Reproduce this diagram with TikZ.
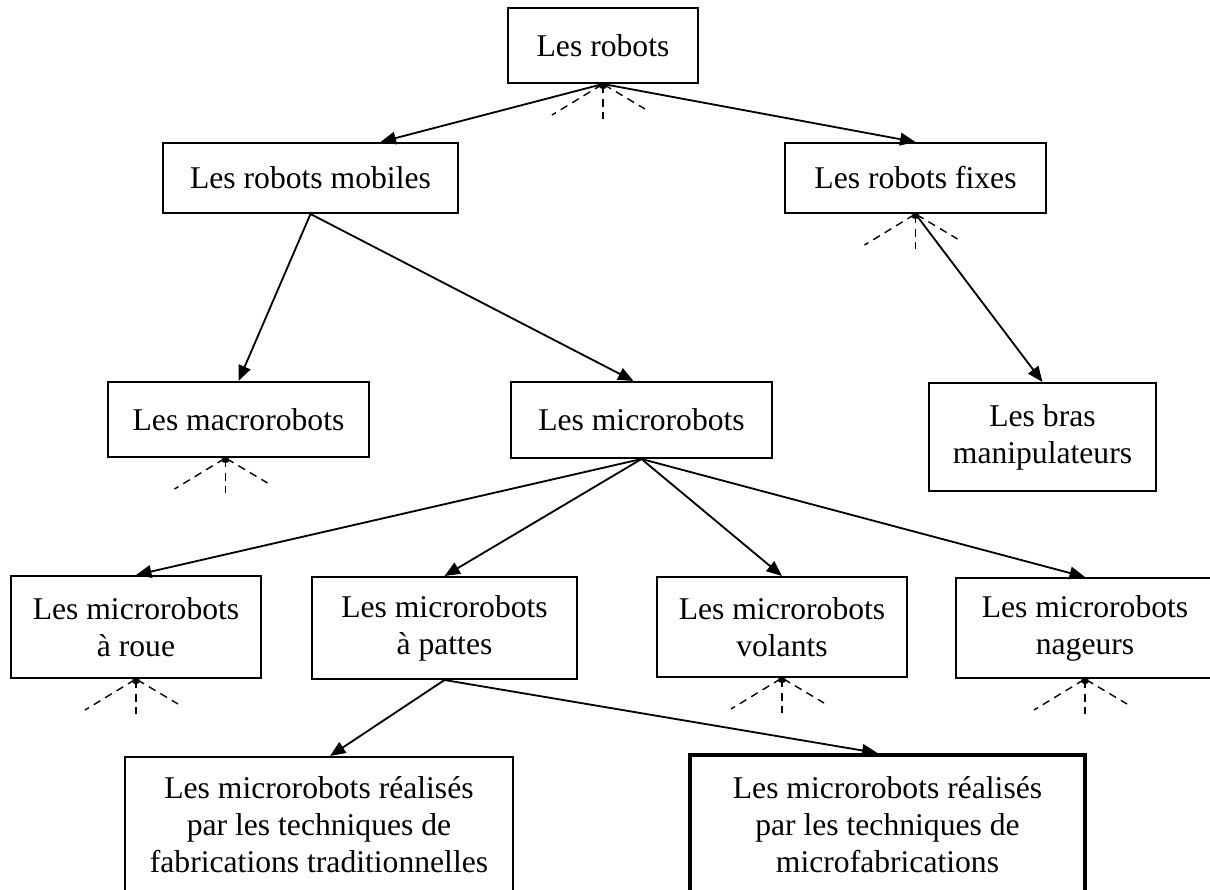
\documentclass[tikz,border=0pt]{standalone}
\usepackage{fontspec}
\setmainfont{Liberation Serif}
\usetikzlibrary{arrows.meta,calc}

\tikzset{
  boite/.style={draw, line width=1.4pt, align=center, inner sep=0pt,
    font=\fontsize{22.5}{26.3}\selectfont},
  fleche/.style={-{Triangle[length=11pt,width=9pt]}, line width=1.3pt},
  pointille/.style={dash pattern=on 5.5pt off 4pt, line width=1pt,
    {Straight Barb[length=2pt,width=4.5pt]}-}
}
% trois traits pointilles sous une boite
\newcommand{\rayons}[1]{%
  \draw[pointille] (#1) -- ++(-51,31);
  \draw[pointille] (#1) -- ++(0,35);
  \draw[pointille] (#1) -- ++(42,25);}

\begin{document}
\begin{tikzpicture}[x=0.025cm,y=-0.025cm]
  \useasboundingbox (0,0) rectangle (1210,889);

  \node[boite, minimum width=4.75cm, minimum height=1.875cm] (robots) at (603,45.5) {Les robots};
  \node[boite, minimum width=7.375cm, minimum height=1.75cm] (mob) at (310.5,178) {Les robots mobiles};
  \node[boite, minimum width=6.525cm, minimum height=1.75cm] (fix) at (915.5,178) {Les robots fixes};
  \node[boite, minimum width=6.525cm, minimum height=1.875cm] (macro) at (238.5,419.5) {Les macrorobots};
  \node[boite, minimum width=6.525cm, minimum height=1.9cm] (micro) at (641.5,420) {Les microrobots};
  \node[boite, minimum width=5.675cm, minimum height=2.7cm] (bras) at (1042.5,437) {Les bras\\manipulateurs};
  \node[boite, minimum width=6.25cm, minimum height=2.55cm] (roue) at (136,627) {Les microrobots\\à roue};
  \node[boite, minimum width=6.625cm, minimum height=2.55cm] (pattes) at (444.5,628) {Les microrobots\\à pattes};
  \node[boite, minimum width=6.25cm, minimum height=2.5cm] (volants) at (782,627) {Les microrobots\\volants};
  \node[boite, minimum width=6.45cm, minimum height=2.5cm] (nageurs) at (1085,628) {Les microrobots\\nageurs};
  \node[boite, minimum width=9.7cm, minimum height=3.4cm] (tradi) at (319,825)
    {Les microrobots réalisés\\par les techniques de\\fabrications traditionnelles};
  \node[boite, line width=2.8pt, minimum width=9.875cm, minimum height=3.5cm] (micfab) at (887.5,825)
    {Les microrobots réalisés\\par les techniques de\\microfabrications};

  % liaisons
  \draw[fleche] (robots.south) -- ($(mob.north)+(70,0)$);
  \draw[fleche] (robots.south) -- (fix.north);
  \draw[fleche] (mob.south) -- (macro.north);
  \draw[fleche] (mob.south) -- ($(micro.north)+(-8,0)$);
  \draw[fleche] (fix.south) -- (bras.north);
  \foreach \n in {roue,pattes,volants,nageurs}
    \draw[fleche] (micro.south) -- (\n.north);
  \draw[fleche] (pattes.south) -- ($(tradi.north)+(11,0)$);
  \draw[fleche] (pattes.south) -- ($(micfab.north)+(-10,0)$);

  \rayons{robots.south}
  \rayons{fix.south}
  \rayons{$(macro.south)+(-13,0)$}
  \rayons{roue.south}
  \rayons{volants.south}
  \rayons{nageurs.south}
\end{tikzpicture}
\end{document}
